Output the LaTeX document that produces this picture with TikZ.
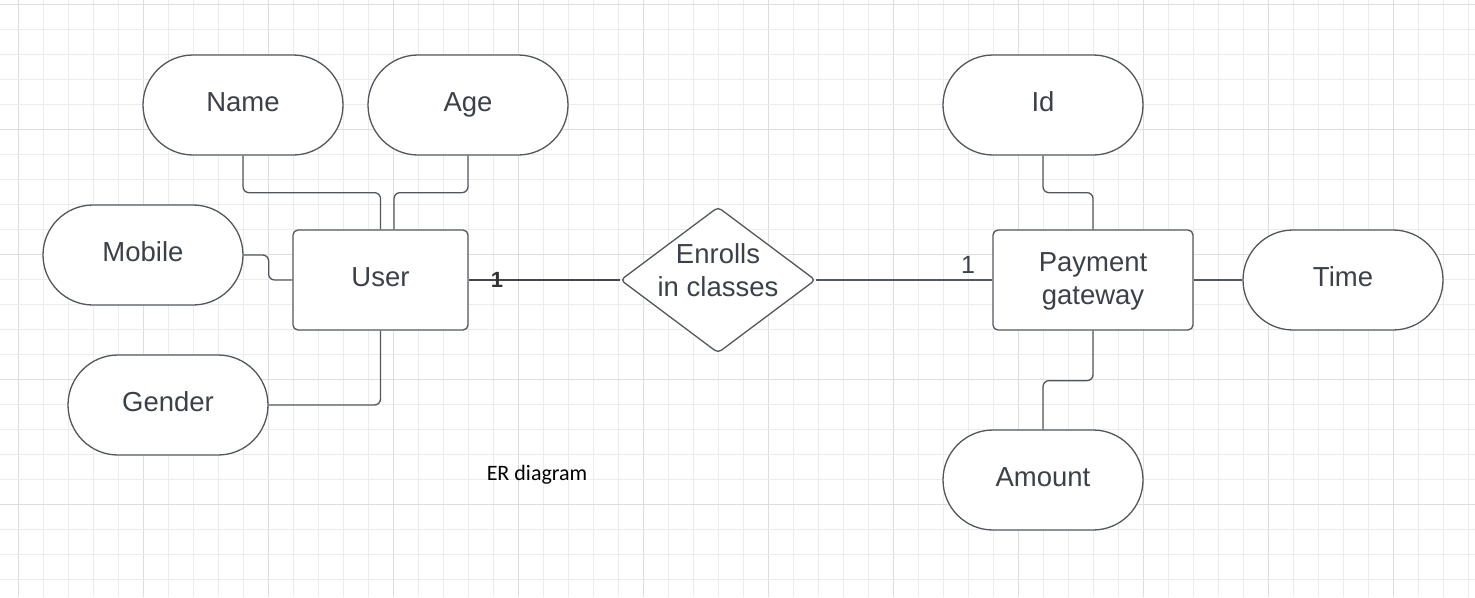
\documentclass[tikz,border=0pt]{standalone}
\usepackage{fontspec}
\setmainfont{Liberation Sans}
\newfontfamily\erfont{Carlito}
\usetikzlibrary{shapes.geometric}
\definecolor{lineC}{RGB}{82,87,94}
\definecolor{textC}{RGB}{60,65,73}
\definecolor{gridminor}{RGB}{236,236,236}
\definecolor{gridmajor}{RGB}{222,222,222}
\tikzset{
  attr/.style={draw=lineC, line width=1.3pt, fill=white, rectangle, rounded corners=50pt,
    minimum width=200pt, minimum height=100pt, inner sep=0pt, text=textC,
    font=\fontsize{27.5}{33}\selectfont, text height=13pt, text depth=1pt},
  entity/.style={draw=lineC, line width=1.3pt, fill=white, rectangle, rounded corners=5pt,
    inner sep=0pt, minimum height=100pt, text=textC,
    font=\fontsize{27.5}{33}\selectfont, text height=13pt, text depth=1pt},
  rel/.style={draw=lineC, line width=1.3pt, fill=white, diamond, rounded corners=4pt,
    inner sep=0pt, minimum width=195pt, minimum height=146pt},
  conn/.style={draw=lineC, line width=1.3pt, rounded corners=6pt},
  lbl/.style={text=textC, font=\fontsize{27.5}{33}\selectfont, align=center, inner sep=0pt}
}
\begin{document}
\begin{tikzpicture}[x=1pt,y=-1pt]
\useasboundingbox (0,0) rectangle (1475,597);
\fill[white] (0,0) rectangle (1475,597);
% grid
\foreach \k in {0,...,58}{
  \pgfmathtruncatemacro{\m}{mod(\k,5)}
  \ifnum\m=0 \def\gc{gridmajor}\else\def\gc{gridminor}\fi
  \draw[\gc, line width=1pt] (18+25*\k,0) -- (18+25*\k,597);
}
\foreach \k in {0,...,23}{
  \pgfmathtruncatemacro{\m}{mod(\k,5)}
  \ifnum\m=0 \def\gc{gridmajor}\else\def\gc{gridminor}\fi
  \draw[\gc, line width=1pt] (0,4+25*\k) -- (1475,4+25*\k);
}
% nodes
\node[attr] (name) at (243,105) {Name};
\node[attr] (age) at (468,105) {Age};
\node[attr] (mobile) at (143,255) {Mobile};
\node[attr] (gender) at (168,405) {Gender};
\node[attr] (id) at (1043,105) {Id};
\node[attr] (time) at (1343,280) {Time};
\node[attr] (amount) at (1043,480) {Amount};
\node[entity, minimum width=175pt] (user) at (380.5,280) {User};
\node[entity, minimum width=200pt] (pay) at (1093,280) {};
\node[lbl, anchor=base] (paytext) at (1093,304) {Payment\\gateway};
\node[rel] (enr) at (718,280) {};
\node[lbl, anchor=base] (enrtext) at (718,296) {Enrolls\\in classes};
% connectors
\draw[conn] (name.south) -- ++(0,37) -| (user.north);
\draw[conn] (age.south) -- ++(0,37) -| ([xshift=13.5pt]user.north);
\draw[conn] (mobile.east) -- ++(25,0) |- (user.west);
\draw[conn] (gender.east) -| (user.south);
\draw[draw=lineC!80!black, line width=2pt] (user.east) -- (enr.west);
\draw[conn] (enr.east) -- (pay.west);
\draw[conn] (id.south) -- ++(0,37) -| (pay.north);
\draw[conn] (pay.east) -- (time.west);
\draw[conn] (pay.south) -- ++(0,50) -| (amount.north);
% cardinalities
\node[text=black!80, font=\bfseries\fontsize{22}{26}\selectfont, inner sep=0pt, anchor=base] (c1) at (497,287) {1};
\node[text=textC, font=\fontsize{25}{30}\selectfont, inner sep=0pt, anchor=base] (c2) at (968,273) {1};
% caption
\node[font=\erfont\fontsize{22}{26}\selectfont, text=black, anchor=base, inner sep=0pt] (cap) at (537,480) {ER diagram};
\end{tikzpicture}
\end{document}
